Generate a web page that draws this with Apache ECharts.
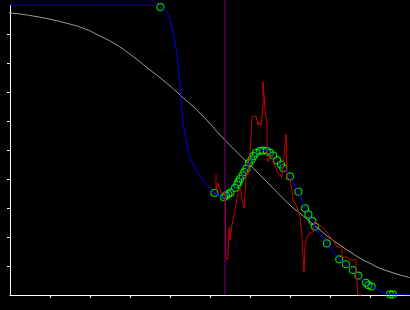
<!DOCTYPE html>
<html><head><meta charset="utf-8">
<script src="https://cdn.jsdelivr.net/npm/echarts@6/dist/echarts.min.js"></script>
<style>html,body{margin:0;padding:0;background:#000;}#c{width:410px;height:310px;}</style>
</head><body><div id="c"></div>
<script>
// x ticks / y ticks (no labels shown)
const xTicks = [10,20,30,40,50,60,70,80,90];
const yTicks = [10,20,30,40,50,60,70,80,90];
// grey reference curve
const greyCurve = [[-2.5,97.9],[0,97.3],[2.5,96.9],[5.8,96.2],[10,95.1],[14.2,93.7],[18.3,92.0],[22.5,89.3],[26.7,86.2],[30.8,82.2],[35,77.6],[39.2,73.0],[42.5,69.0],[47.5,62.7],[53.75,53.4],[60,44.8],[65,37.9],[70,31.0],[72.5,28.2],[75,25.3],[77.5,22.4],[80,19.6],[82.5,17.2],[85,14.9],[87.5,12.7],[90,10.9],[92.5,9.2],[95,8.0],[97.5,6.9],[100,6.0]];
// blue fitted curve (lead-in section before the marked points)
const blueLead = [[0,100],[36.8,100],[37.6,99.3],[38.4,98.6],[39.2,97.7],[40,94.8],[40.6,91.4],[41.3,86.9],[42.1,78.7],[42.5,71.8],[42.9,64.9],[43.3,59.3],[44,53.4],[44.6,49.0],[45,47.6],[45.4,46.2],[46.3,43.8],[47.5,41.0],[48.8,38.6],[50,36.6],[51.1,35.2],[52.3,34.1]];
// green marked points
const greenPts = [[37.6,99.3],[51.1,35.2],[53.5,33.7],[54,34.3],[54.6,34.8],[55.1,35.3],[56.25,36.9],[56.8,38.1],[57.1,39.0],[57.5,40.0],[58.1,41.2],[58.6,42.4],[59.1,43.6],[59.75,45.5],[60.4,46.7],[60.9,47.9],[61.5,49.0],[62.5,49.7],[63.3,49.8],[64.2,49.7],[65,49.1],[65.8,48.1],[66.8,46.4],[67.75,45.0],[68.3,43.8],[70,40.9],[72.1,35.6],[73.75,29.9],[74.6,27.8],[75.6,25.5],[76.25,23.6],[79.2,17.8],[82.3,12.3],[84,10.6],[85.7,8.6],[87.1,6.7],[89,4.2],[89.6,3.4],[90.4,2.9],[95,0.2],[95.7,0.2]];
// blue curve tail after the marked points
const blueTail = [[100,0]];
// red noisy measurement
const redLine = [[51.5,41.7],[51.5,36.2],[52,38.6],[52.5,38.6],[52.75,35.2],[53.75,35.2],[54,35.2],[54,12.8],[54.25,12.1],[54.5,12.8],[54.75,23.4],[55,19.0],[55.25,19.0],[55.5,24.1],[56,27.6],[56.5,31.0],[57,35.2],[57.5,36.9],[57.75,36.2],[58,32.8],[58.5,30.0],[58.75,30.0],[59,40.7],[59.25,42.4],[59.5,41.4],[59.75,45.9],[60,50.0],[60.25,54.1],[60.5,61.4],[61.5,61.7],[61.75,60.3],[62,58.6],[62.25,59.7],[62.75,58.3],[63,61.4],[63.25,64.8],[63.25,73.4],[63.75,73.4],[63.75,64.5],[64,61.0],[64.25,59.3],[64.25,47.2],[64.5,45.9],[65,48.3],[65.75,47.6],[65.75,45.5],[66.5,44.1],[66.75,42.4],[67.5,41.4],[68,40.7],[68.5,41.0],[69,55.5],[69.25,55.5],[69.25,40.7],[69.75,40.3],[70,39.7],[70.5,36.2],[70.75,32.8],[71.25,31.7],[72,29.3],[72.5,26.9],[73,20.0],[73.25,13.8],[73.5,7.9],[73.75,17.2],[74.25,20.0],[75,21.4],[75.75,21.7],[76.25,25.2],[76.75,24.8],[77.5,24.1],[78.25,23.1],[79.25,21.7],[80,20.0],[81.25,17.9],[81.75,16.6],[83,16.6],[83,13.1],[84.25,13.1],[85,12.1],[86.5,12.1],[86.5,6.2],[86.75,5.2],[87,0],[88,0]];
// vertical marker position
const markerX = 53.75;

const blueLine = blueLead.concat(greenPts.slice(1)).concat(blueTail);
const chart = echarts.init(document.getElementById('c'), null, {renderer:'canvas'});
chart.setOption({
  backgroundColor:'#000',
  animation:false,
  grid:{left:10,right:0,top:5,bottom:15,containLabel:false},
  xAxis:{type:'value',min:0,max:100,interval:10,
    axisLine:{show:true,onZero:false,lineStyle:{color:'#fff',width:1}},
    axisTick:{show:true,length:3,customValues:xTicks,lineStyle:{color:'#fff',width:1}},
    axisLabel:{show:false},splitLine:{show:false}},
  yAxis:{type:'value',min:0,max:100,interval:10,
    axisLine:{show:true,onZero:false,lineStyle:{color:'#fff',width:1}},
    axisTick:{show:true,length:3,customValues:yTicks,lineStyle:{color:'#fff',width:1}},
    axisLabel:{show:false},splitLine:{show:false}},
  series:[
    {type:'line',data:greyCurve,smooth:true,showSymbol:false,clip:false,lineStyle:{color:'#a0a0a0',width:1}},
    {type:'line',data:redLine,showSymbol:false,lineStyle:{color:'#cc0000',width:1}},
    {type:'line',data:blueLine,showSymbol:false,smooth:0.2,lineStyle:{color:'#0000ff',width:1}},
    {type:'line',data:[[markerX,0],[markerX,101.7]],showSymbol:false,clip:false,lineStyle:{color:'#800080',width:1}},
    {type:'scatter',data:greenPts,symbol:'circle',symbolSize:7,itemStyle:{color:'rgba(0,0,0,0)',borderColor:'#00ff00',borderWidth:1.2}}
  ]
});
</script></body></html>
